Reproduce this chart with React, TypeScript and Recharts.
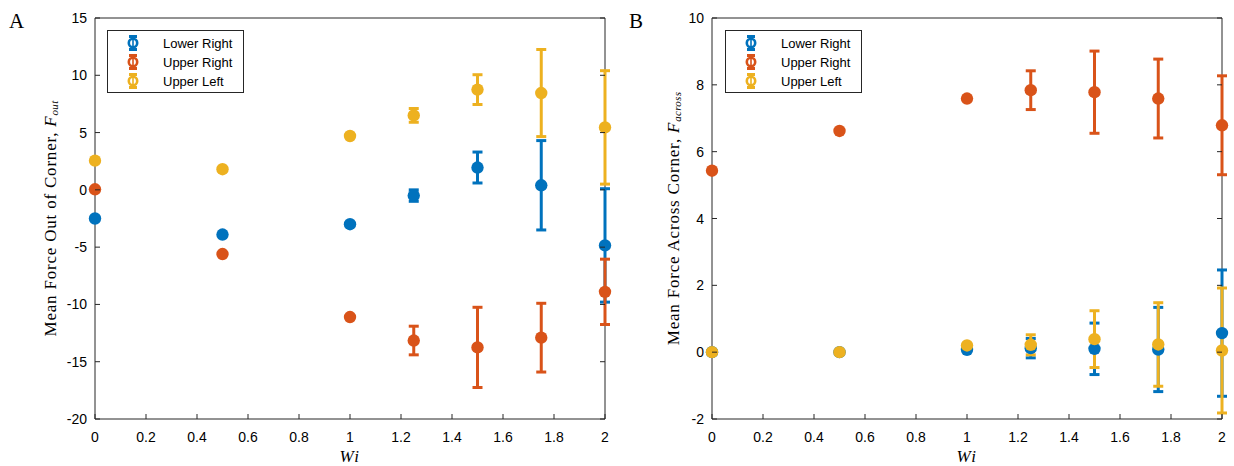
import React from 'react';
import { ScatterChart, Scatter, XAxis, YAxis, ErrorBar, Legend, ReferenceArea } from 'recharts';

// Weissenberg numbers sampled
const wiValues = [0, 0.5, 1, 1.25, 1.5, 1.75, 2];
const xTicks = [0, 0.2, 0.4, 0.6, 0.8, 1, 1.2, 1.4, 1.6, 1.8, 2];

const seriesNames = ['Lower Right', 'Upper Right', 'Upper Left'];
const seriesColors = ['#0072BD', '#D95319', '#EDB120'];

// Panel A: mean force out of the corner
const outTicks = [-20, -15, -10, -5, 0, 5, 10, 15];
const outLowerRight = [-2.5, -3.9, -3.0, -0.5, 1.95, 0.4, -4.85];
const outLowerRightErr = [0, 0, 0, 0.5, 1.35, 3.9, 4.95];
const outUpperRight = [0.05, -5.6, -11.1, -13.15, -13.75, -12.9, -8.9];
const outUpperRightErr = [0, 0, 0, 1.25, 3.5, 3.0, 2.85];
const outUpperLeft = [2.55, 1.8, 4.7, 6.5, 8.75, 8.45, 5.45];
const outUpperLeftErr = [0, 0, 0, 0.6, 1.3, 3.8, 4.95];

// Panel B: mean force across the corner
const acrossTicks = [-2, 0, 2, 4, 6, 8, 10];
const acrossLowerRight = [0, 0, 0.07, 0.12, 0.1, 0.08, 0.57];
const acrossLowerRightErr = [0, 0, 0, 0.29, 0.77, 1.26, 1.89];
const acrossUpperRight = [5.43, 6.62, 7.59, 7.84, 7.78, 7.59, 6.79];
const acrossUpperRightErr = [0, 0, 0, 0.58, 1.23, 1.18, 1.48];
const acrossUpperLeft = [0, 0, 0.2, 0.22, 0.39, 0.23, 0.05];
const acrossUpperLeftErr = [0, 0, 0.05, 0.3, 0.85, 1.25, 1.87];

const AXIS_COLOR = '#262626';
const TICK_LEN = 5;
const sansFont = '"Liberation Sans", Arial, Helvetica, sans-serif';
const serifFont = '"Liberation Serif", "Times New Roman", serif';

type Point = { wi: number; y: number; err: number };

const toPoints = (ys: number[], errs: number[]): Point[] =>
  wiValues.map((wi, i) => ({ wi, y: ys[i], err: errs[i] }));

function BottomTick(props: any) {
  const { x, y, payload } = props;
  return (
    <g>
      <line x1={x} y1={y} x2={x} y2={y - TICK_LEN} stroke={AXIS_COLOR} strokeWidth={1} />
      <text x={x} y={y + 18} textAnchor="middle" dominantBaseline="central" fontSize={14} fontFamily={sansFont} fill="#000">
        {payload.value}
      </text>
    </g>
  );
}

function TopTick(props: any) {
  const { x, y } = props;
  return <line x1={x} y1={y} x2={x} y2={y + TICK_LEN} stroke={AXIS_COLOR} strokeWidth={1} />;
}

function LeftTick(props: any) {
  const { x, y, payload } = props;
  return (
    <g>
      <line x1={x} y1={y} x2={x + TICK_LEN} y2={y} stroke={AXIS_COLOR} strokeWidth={1} />
      <text x={x - 8} y={y} textAnchor="end" dominantBaseline="central" fontSize={14} fontFamily={sansFont} fill="#000">
        {payload.value}
      </text>
    </g>
  );
}

function RightTick(props: any) {
  const { x, y } = props;
  return <line x1={x} y1={y} x2={x - TICK_LEN} y2={y} stroke={AXIS_COLOR} strokeWidth={1} />;
}

function LegendBox() {
  return (
    <svg width={138} height={64} style={{ display: 'block', overflow: 'visible' }}>
      <rect x={0.5} y={0.5} width={136} height={62} fill="#fff" stroke={AXIS_COLOR} strokeWidth={1} />
      {seriesNames.map((name, i) => {
        const cy = 13 + i * 19;
        const c = seriesColors[i];
        return (
          <g key={name}>
            <line x1={26} y1={cy - 6.5} x2={26} y2={cy + 6.5} stroke={c} strokeWidth={3} />
            <line x1={22} y1={cy - 6.5} x2={30} y2={cy - 6.5} stroke={c} strokeWidth={3} />
            <line x1={22} y1={cy + 6.5} x2={30} y2={cy + 6.5} stroke={c} strokeWidth={3} />
            <circle cx={26} cy={cy} r={4.2} fill="#fff" stroke={c} strokeWidth={2.6} />
            <line x1={26} y1={cy - 4} x2={26} y2={cy + 4} stroke={c} strokeWidth={1.6} />
            <text x={56} y={cy} dominantBaseline="central" fontSize={13} fontFamily={sansFont} fill="#000">
              {name}
            </text>
          </g>
        );
      })}
    </svg>
  );
}

type PanelProps = {
  letter: string;
  letterX: number;
  labelDx: number;
  labelMain: string;
  labelSub: string;
  yTicks: number[];
  legendLeft: number;
  series: Point[][];
};

function ForcePanel({ letter, letterX, labelDx, labelMain, labelSub, yTicks, legendLeft, series }: PanelProps) {
  const yMin = yTicks[0];
  const yMax = yTicks[yTicks.length - 1];
  const yDomain: [number, number] = [yMin, yMax];

  const yLabel = (props: any) => {
    const vb = props.viewBox || {};
    const cx = vb.x + vb.width - labelDx;
    const cy = vb.y + vb.height / 2;
    return (
      <g>
        <text x={letterX} y={28} fontSize={21} fontFamily={serifFont} fill="#000">
          {letter}
        </text>
        <text
          transform={`translate(${cx},${cy}) rotate(-90)`}
          textAnchor="middle"
          dominantBaseline="central"
          fontFamily={serifFont}
          fontSize={17}
          letterSpacing={0.8}
          fill="#000"
        >
          {labelMain}
          <tspan fontStyle="italic">F</tspan>
          <tspan fontStyle="italic" fontSize={11} dy={4} letterSpacing={0.3}>
            {labelSub}
          </tspan>
        </text>
      </g>
    );
  };

  const xLabel = (props: any) => {
    const vb = props.viewBox || {};
    return (
      <text
        x={vb.x + vb.width / 2}
        y={vb.y + 43}
        textAnchor="middle"
        fontFamily={serifFont}
        fontStyle="italic"
        fontSize={17}
        letterSpacing={1.5}
        fill="#000"
      >
        Wi
      </text>
    );
  };

  const axisCommon = {
    type: 'number' as const,
    interval: 0 as const,
    tickSize: 0,
    tickMargin: 0,
    tickLine: false,
    axisLine: false,
  };

  return (
    <ScatterChart width={617} height={466} margin={{ top: 17, right: 11, bottom: 46, left: 94 }}>
      <XAxis {...axisCommon} dataKey="wi" domain={[0, 2]} ticks={xTicks} height={1} tick={<BottomTick />} label={xLabel} />
      <XAxis {...axisCommon} xAxisId="top" orientation="top" domain={[0, 2]} ticks={xTicks} allowDataOverflow height={1} tick={<TopTick />} />
      <YAxis {...axisCommon} dataKey="y" domain={yDomain} ticks={yTicks} width={1} tick={<LeftTick />} label={yLabel} />
      <YAxis {...axisCommon} yAxisId="right" orientation="right" domain={yDomain} ticks={yTicks} allowDataOverflow width={1} tick={<RightTick />} />
      {/* axes box, kept beneath the markers */}
      <ReferenceArea x1={0} x2={2} y1={yMin} y2={yMax} fill="none" fillOpacity={0} stroke={AXIS_COLOR} strokeWidth={1} strokeOpacity={1} />
      {series.map((pts, i) => (
        <Scatter
          key={seriesNames[i]}
          name={seriesNames[i]}
          data={pts}
          fill={seriesColors[i]}
          isAnimationActive={false}
          shape={(p: any) => <circle cx={p.cx} cy={p.cy} r={6.2} fill={seriesColors[i]} />}
        >
          <ErrorBar
            dataKey="err"
            direction="y"
            width={5}
            strokeWidth={3}
            stroke={seriesColors[i]}
            isAnimationActive={false}
          />
        </Scatter>
      ))}
      <Legend
        layout="vertical"
        align="center"
        verticalAlign="middle"
        wrapperStyle={{ left: legendLeft, top: 30, width: 138, height: 64 }}
        content={() => <LegendBox />}
      />
    </ScatterChart>
  );
}

export default function App() {
  return (
    <div style={{ position: 'absolute', left: 0, top: 0, width: 1234, height: 466, display: 'flex', background: '#fff' }}>
      <ForcePanel
        letter="A"
        letterX={9}
        labelDx={45}
        labelMain="Mean Force Out of Corner, "
        labelSub="out"
        yTicks={outTicks}
        legendLeft={107}
        series={[
          toPoints(outLowerRight, outLowerRightErr),
          toPoints(outUpperRight, outUpperRightErr),
          toPoints(outUpperLeft, outUpperLeftErr),
        ]}
      />
      <ForcePanel
        letter="B"
        letterX={12}
        labelDx={39}
        labelMain="Mean Force Across Corner, "
        labelSub="across"
        yTicks={acrossTicks}
        legendLeft={108}
        series={[
          toPoints(acrossLowerRight, acrossLowerRightErr),
          toPoints(acrossUpperRight, acrossUpperRightErr),
          toPoints(acrossUpperLeft, acrossUpperLeftErr),
        ]}
      />
    </div>
  );
}
